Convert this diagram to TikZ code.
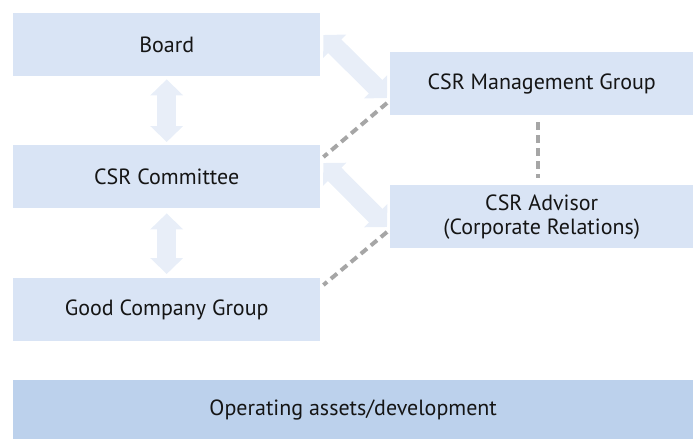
\documentclass[tikz,border=0pt]{standalone}
\usepackage{fontspec}
\setmainfont{PT Sans}
\usetikzlibrary{arrows.meta,calc}
\definecolor{boxfill}{HTML}{D9E4F5}
\definecolor{basefill}{HTML}{BCD1EC}
\definecolor{arrowfill}{HTML}{E8EEF8}
\definecolor{dashgray}{HTML}{A6A6A6}
\definecolor{textcol}{HTML}{151515}
\begin{document}
\begin{tikzpicture}[x=1pt,y=-1pt,
  unit/.style={fill=boxfill,draw=none,minimum width=307pt,minimum height=63pt,
    inner sep=0pt,text=textcol,font=\fontsize{22}{24}\selectfont,align=center,anchor=north west},
  wideunit/.style={unit,minimum width=303pt},
  baseunit/.style={unit,fill=basefill,minimum width=680pt,minimum height=59pt},
  twoway/.style={draw=arrowfill,line width=19pt,
    {Triangle[width=32pt,length=16pt]}-{Triangle[width=32pt,length=16pt]}},
  link/.style={draw=dashgray,line width=4pt,dash pattern=on 8pt off 5pt}]
  \useasboundingbox (0,0) rectangle (693,439);

  % left column
  \node[unit] (board) at (13,13) {Board};
  \node[unit] (committee) at (13,145) {CSR Committee};
  \node[unit] (good) at (13,278) {Good Company Group};
  % right column
  \node[wideunit] (mgmt) at (390,52) {CSR Management Group};
  \node[wideunit] (advisor) at (390,185) {CSR Advisor\\(Corporate Relations)};
  % base
  \node[baseunit] (base) at (13,380) {Operating assets/development};

  % two-way arrows
  \draw[twoway] ([yshift=-3pt]board.south) -- ([yshift=3pt]committee.north);
  \draw[twoway] ([yshift=-5pt]committee.south) -- ([yshift=4pt]good.north);
  \draw[twoway] ($(board.north east)+(3,22)$) -- ($(mgmt.north west)+(-3,46)$);
  \draw[twoway] ($(committee.north east)+(3,18)$) -- ($(advisor.north west)+(-3,42)$);

  % dashed links
  \draw[link] ($(mgmt.north west)+(-3,51)$) -- ($(committee.north east)+(3,12)$);
  \draw[link] ($(advisor.north west)+(-3,47)$) -- ($(good.north east)+(3,7)$);
  \draw[link] ([xshift=-4pt,yshift=-7pt]mgmt.south) -- ([xshift=-4pt,yshift=7pt]advisor.north);
\end{tikzpicture}
\end{document}
